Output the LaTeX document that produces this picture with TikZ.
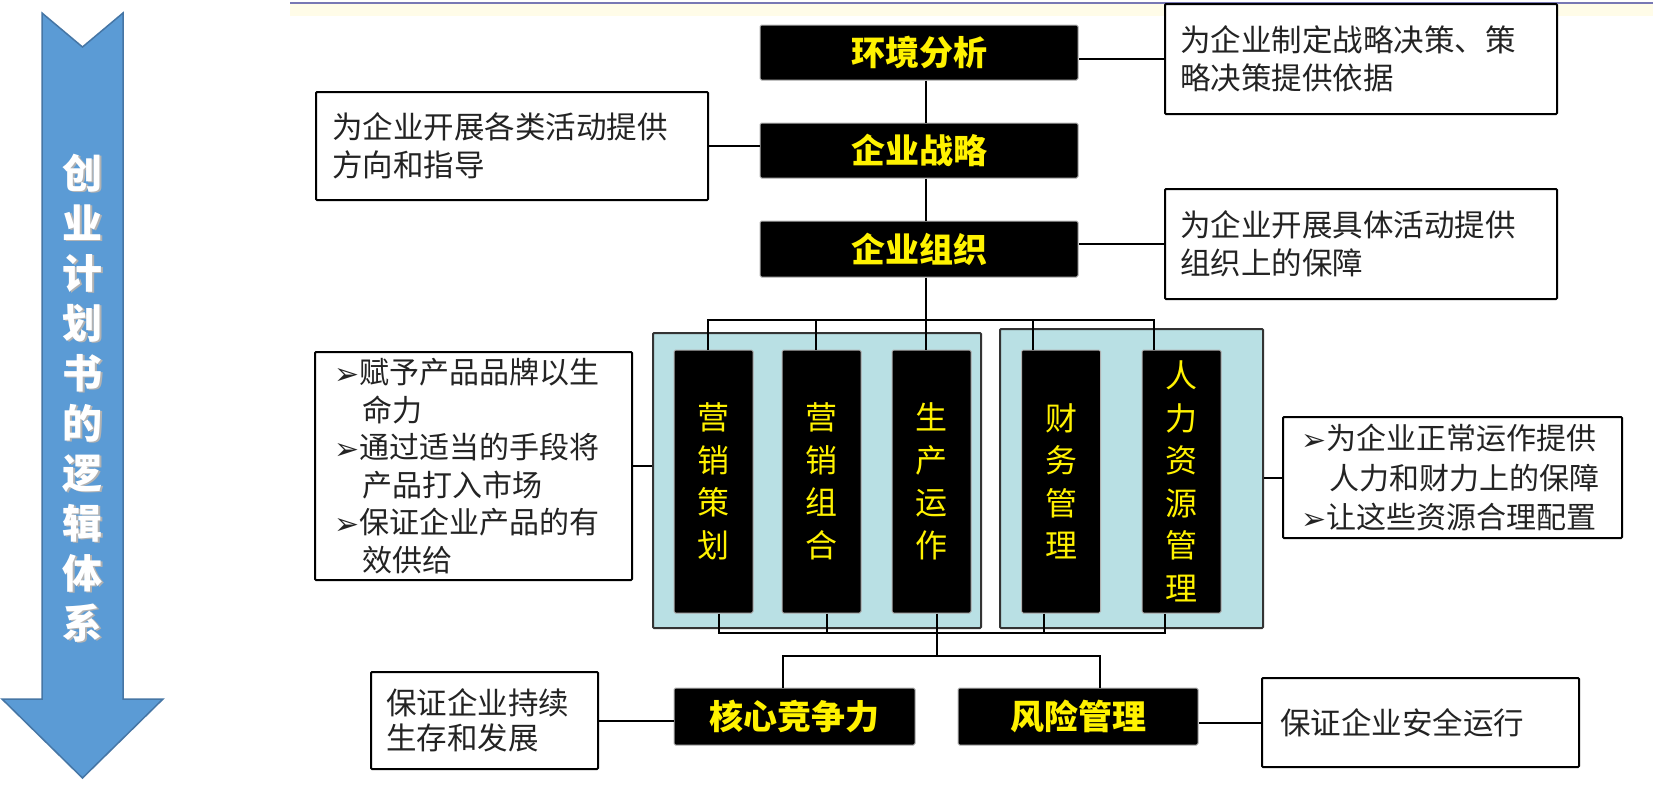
\documentclass[tikz,border=0pt]{standalone}
\usepackage{fontspec}
\newfontfamily\cjk{Noto Sans CJK SC}
\newfontfamily\symf{DejaVu Sans}
\definecolor{arrowblue}{RGB}{91,155,213}
\definecolor{arrowedge}{RGB}{70,118,165}
\definecolor{grpfill}{RGB}{185,224,228}
\definecolor{txtgray}{RGB}{35,35,35}
\definecolor{topline}{RGB}{120,120,180}
\definecolor{band}{RGB}{255,252,232}
\newcommand{\bul}{\makebox[25pt][l]{\symf\fontsize{30}{30}\selectfont\raisebox{-1pt}{➢}}}
\newcommand{\ind}{\hspace*{28pt}}
\tikzset{
  conn/.style={draw=black, line width=2pt},
  blk/.style={fill=black, draw=gray!60, line width=1pt, rounded corners=1.5pt, inner sep=0pt,
    text=yellow, font=\cjk\bfseries\fontsize{34}{40}\selectfont},
  colbox/.style={fill=black, draw=gray!60, line width=1pt, rounded corners=1.5pt, inner sep=0pt,
    minimum width=79pt, minimum height=263pt, align=center, text=yellow,
    font=\cjk\fontsize{32}{42.5}\selectfont},
  grp/.style={fill=grpfill, draw=black!80, line width=2pt, rounded corners=1pt, inner sep=0pt},
  tbox/.style={fill=white, draw=black, line width=2pt, rounded corners=1pt, inner ysep=0pt,
    align=left, text=txtgray, font=\cjk\fontsize{30.5}{38}\selectfont}
}
\begin{document}
\begin{tikzpicture}[x=1pt,y=-1pt]
\useasboundingbox (0,0) rectangle (1653,793);
\fill[white] (0,0) rectangle (1653,793);
% top band
\fill[band] (290,4) rectangle (1653,16);
\draw[topline, line width=2pt] (290,3) -- (1653,3);
% side arrow
\draw[fill=arrowblue, draw=arrowedge, line width=1.5pt, line join=miter]
  (42,13) -- (82.5,47) -- (123,13) -- (123,699) -- (163,699) -- (82.5,778) -- (2,699) -- (42,699) -- cycle;
\node[font=\cjk\bfseries\fontsize{40}{50}\selectfont, text=black!30, align=center, inner sep=0pt] (ashadow) at (84,399.5) {创\\业\\计\\划\\书\\的\\逻\\辑\\体\\系};
\node[font=\cjk\bfseries\fontsize{40}{50}\selectfont, text=white, align=center, inner sep=0pt] (atext) at (82.5,398) {创\\业\\计\\划\\书\\的\\逻\\辑\\体\\系};
% groups
\node[grp, minimum width=328pt, minimum height=295pt] (g1) at (817,480.5) {};
\node[grp, minimum width=263pt, minimum height=299pt] (g2) at (1131.5,478.5) {};
% black boxes
\node[blk, minimum width=318pt, minimum height=55pt] (env) at (919,52.5) {环境分析};
\node[blk, minimum width=318pt, minimum height=55pt] (str) at (919,150.5) {企业战略};
\node[blk, minimum width=318pt, minimum height=56pt] (org) at (919,249) {企业组织};
\node[blk, minimum width=241pt, minimum height=57pt] (core) at (794.5,716.5) {核心竞争力};
\node[blk, minimum width=240pt, minimum height=57pt] (risk) at (1078,716.5) {风险管理};
% columns
\node[colbox] (c1) at (713.5,481.5) {营\\销\\策\\划};
\node[colbox] (c2) at (821.5,481.5) {营\\销\\组\\合};
\node[colbox] (c3) at (931.5,481.5) {生\\产\\运\\作};
\node[colbox] (c4) at (1061,481.5) {财\\务\\管\\理};
\node[colbox] (c5) at (1181.5,481.5) {人\\力\\资\\源\\管\\理};
% text boxes
\node[tbox, inner xsep=15pt, text width=362pt, minimum height=110pt] (t1) at (1361,59)
  {为企业制定战略决策、策\\略决策提供依据};
\node[tbox, inner xsep=16pt, text width=360pt, minimum height=108pt] (t2) at (512,146)
  {为企业开展各类活动提供\\方向和指导};
\node[tbox, inner xsep=15pt, text width=362pt, minimum height=110pt] (t3) at (1361,244)
  {为企业开展具体活动提供\\组织上的保障};
\node[tbox, inner xsep=19pt, text width=279pt, minimum height=228pt,
  font=\cjk\fontsize{30}{37.6}\selectfont] (t4) at (473.5,466)
  {\bul 赋予产品品牌以生\\\ind 命力\\\bul 通过适当的手段将\\\ind 产品打入市场\\\bul 保证企业产品的有\\\ind 效供给};
\node[tbox, inner xsep=18pt, text width=303pt, minimum height=121pt,
  font=\cjk\fontsize{30}{39.5}\selectfont] (t5) at (1452.5,477.5)
  {\bul 为企业正常运作提供\\\ind 人力和财力上的保障\\\bul 让这些资源合理配置};
\node[tbox, inner xsep=15pt, text width=197pt, minimum height=97pt,
  font=\cjk\fontsize{30.5}{35.5}\selectfont] (t6) at (484.5,720.5)
  {保证企业持续\\生存和发展};
\node[tbox, inner xsep=18pt, text width=281pt, minimum height=89pt] (t7) at (1420.5,722.5)
  {保证企业安全运行};
% spine connectors
\coordinate (spine) at (926,0);
\coordinate (br) at (926,320);
\draw[conn] (env.south -| spine) -- (str.north -| spine);
\draw[conn] (str.south -| spine) -- (org.north -| spine);
\draw[conn] (org.south -| spine) -- (br);
\draw[conn] ([xshift=34pt]c1.north west) |- (br) -| ([xshift=12pt]c5.north west);
\draw[conn] ([xshift=34pt]c2.north west) -- ([xshift=34pt]c2.north west |- br);
\draw[conn] ([xshift=34pt]c3.north west) -- ([xshift=34pt]c3.north west |- br);
\draw[conn] ([xshift=12pt]c4.north west) -- ([xshift=12pt]c4.north west |- br);
\coordinate (bb) at (937,633);
\coordinate (cc) at (937,656);
\draw[conn] ([xshift=45.5pt]c1.south west) |- (bb) -| ([xshift=23pt]c5.south west);
\draw[conn] ([xshift=45pt]c2.south west) -- ([xshift=45pt]c2.south west |- bb);
\draw[conn] ([xshift=45pt]c3.south west) -- ([xshift=45pt]c3.south west |- bb);
\draw[conn] ([xshift=23pt]c4.south west) -- ([xshift=23pt]c4.south west |- bb);
\draw[conn] (bb) -- (cc);
\draw[conn] ([xshift=109pt]core.north west) |- (cc) -| ([xshift=142pt]risk.north west);
% side connectors
\draw[conn] (t1.west) -- (t1.west -| env.east);
\draw[conn] (t2.east) -- (t2.east -| str.west);
\draw[conn] (t3.west) -- (t3.west -| org.east);
\draw[conn] (t4.east) -- (t4.east -| g1.west);
\draw[conn] (t5.west) -- (t5.west -| g2.east);
\draw[conn] (t6.east) -- (t6.east -| core.west);
\draw[conn] (t7.west) -- (t7.west -| risk.east);
\end{tikzpicture}
\end{document}
